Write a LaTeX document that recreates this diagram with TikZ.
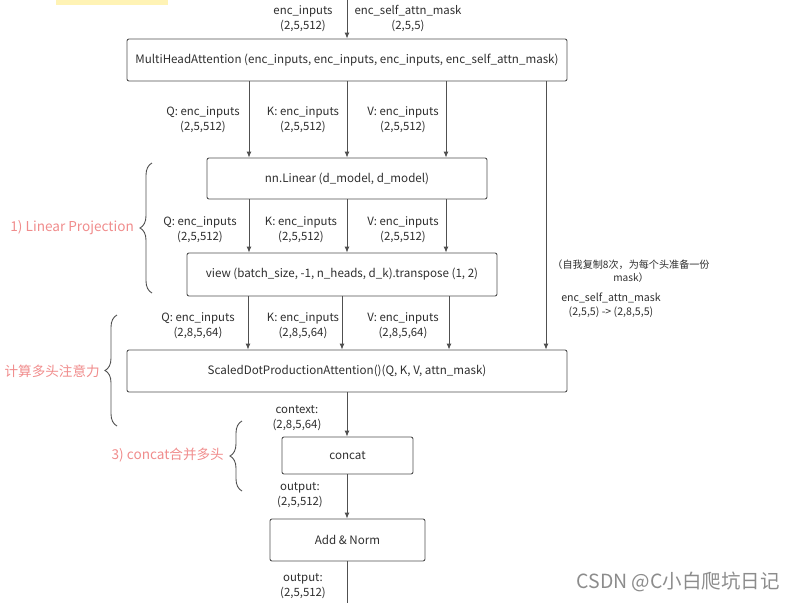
\documentclass[tikz,border=0pt]{standalone}
\usepackage{fontspec}
\setmainfont{Noto Sans CJK SC}
\usetikzlibrary{arrows.meta,decorations.pathreplacing}
\definecolor{linegray}{HTML}{505050}
\definecolor{textgray}{HTML}{2E2E2E}
\definecolor{notepink}{HTML}{F08C8C}
\definecolor{markyellow}{HTML}{FFF3B5}
\tikzset{
  opbox/.style = {draw = linegray, line width = .9pt, rounded corners = 2pt, inner sep = 0pt,
                  text = textgray, font = \fontsize{11.6}{14}\selectfont},
  dimlabel/.style = {align = center, inner sep = 0pt, text = textgray, font = \fontsize{11.4}{15}\selectfont},
  flow/.style = {draw = linegray, line width = .9pt, ->, >= {Latex[length = 6pt, width = 5pt]}},
  notetext/.style = {anchor = east, inner sep = 0pt, text = notepink, font = \fontsize{13.6}{15}\selectfont},
  bracket/.style = {draw = linegray, line width = .9pt, decorate, decoration = {brace, amplitude = 12pt}}
}
\begin{document}
\begin{tikzpicture} [x = 1pt, y = -1pt]
          \useasboundingbox (0,0) rectangle (796,603);
          \fill[markyellow] (56,0) rectangle (168,5);

          \coordinate (colq) at (249,0);
          \coordinate (colk) at (347,0);
          \coordinate (colv) at (446,0);
          \coordinate (colm) at (546,0);
          \coordinate (colqb) at (248,0);
          \coordinate (colkb) at (342,0);
          \coordinate (colvb) at (449,0);
          \coordinate (outend) at (347,603);

          \node[opbox, minimum width = 440pt, minimum height = 42pt] (mha) at (347,60) {MultiHeadAttention (enc\_inputs, enc\_inputs, enc\_inputs, enc\_self\_attn\_mask)};
          \node[opbox, minimum width = 280pt, minimum height = 41pt] (linear) at (347,178.5) {nn.Linear (d\_model, d\_model)};
          \node[opbox, minimum width = 310pt, minimum height = 43pt] (view) at (342,274.5) {view (batch\_size, -1, n\_heads, d\_k).transpose (1, 2)};
          \node[opbox, minimum width = 440pt, minimum height = 42pt] (sdpa) at (347,371) {ScaledDotProductionAttention()(Q, K, V, attn\_mask)};
          \node[opbox, minimum width = 131pt, minimum height = 37pt] (concat) at (347.5,455.5) {concat};
          \node[opbox, minimum width = 155pt, minimum height = 42pt] (addnorm) at (347.5,540) {Add \& Norm};

          \node[dimlabel] (inx) at (303,19) {enc\_inputs\\(2,5,512)};
          \node[dimlabel] (inmask) at (408,19) {enc\_self\_attn\_mask\\(2,5,5)};
          \node[dimlabel] (qa) at (203,120) {Q: enc\_inputs\\(2,5,512)};
          \node[dimlabel] (ka) at (303,120) {K: enc\_inputs\\(2,5,512)};
          \node[dimlabel] (va) at (403,120) {V: enc\_inputs\\(2,5,512)};
          \node[dimlabel] (qb) at (200,230) {Q: enc\_inputs\\(2,5,512)};
          \node[dimlabel] (kb) at (301,230) {K: enc\_inputs\\(2,5,512)};
          \node[dimlabel] (vb) at (403,230) {V: enc\_inputs\\(2,5,512)};
          \node[dimlabel] (qc) at (198,326) {Q: enc\_inputs\\(2,8,5,64)};
          \node[dimlabel] (kc) at (303,326) {K: enc\_inputs\\(2,8,5,64)};
          \node[dimlabel] (vc) at (403,326) {V: enc\_inputs\\(2,8,5,64)};
          \node[dimlabel, font = \fontsize{10.1}{13}\selectfont] (maskcopy) at (631,271) {（自我复制8次，为每个头准备一份\\mask）};
          \node[dimlabel, font = \fontsize{10.6}{14}\selectfont] (maskshape) at (611,305) {enc\_self\_attn\_mask\\(2,5,5) -> (2,8,5,5)};
          \node[dimlabel] (ctx) at (297,418) {context:\\(2,8,5,64)};
          \node[dimlabel] (outa) at (300,495) {output:\\(2,5,512)};
          \node[dimlabel] (outb) at (303,586) {output:\\(2,5,512)};

          \draw[flow] (colk) -- (mha.north);
          \draw[flow] (mha.south -| colq) -- (linear.north -| colq);
          \draw[flow] (mha.south -| colk) -- (linear.north -| colk);
          \draw[flow] (mha.south -| colv) -- (linear.north -| colv);
          \draw[flow] (mha.south -| colm) -- (sdpa.north -| colm);
          \draw[flow] (linear.south -| colq) -- (view.north -| colq);
          \draw[flow] (linear.south -| colk) -- (view.north -| colk);
          \draw[flow] (linear.south -| colv) -- (view.north -| colv);
          \draw[flow] (view.south -| colqb) -- (sdpa.north -| colqb);
          \draw[flow] (view.south -| colkb) -- (sdpa.north -| colkb);
          \draw[flow] (view.south -| colvb) -- (sdpa.north -| colvb);
          \draw[flow] (sdpa.south -| colk) -- (concat.north -| colk);
          \draw[flow] (concat.south -| colk) -- (addnorm.north -| colk);
          \draw[draw = linegray, line width = .9pt] (addnorm.south -| colk) -- (outend);

          \draw[bracket] (152,293) -- (152,163);
          \node[notetext] (linproj) at (134,228) {1) Linear Projection};
          \draw[bracket] (117,426) -- (117,315);
          \node[notetext] (multihead) at (100,371) {计算多头注意力};
          \draw[bracket] (242,491) -- (242,421);
          \node[notetext] (merge) at (224,455) {3) concat合并多头};

          \node[anchor = east, inner sep = 0pt, text = black!45, font = \fontsize{19.5}{21}\selectfont] (mark) at (780,582) {CSDN @C小白爬坑日记};
        \end{tikzpicture}
\end{document}
